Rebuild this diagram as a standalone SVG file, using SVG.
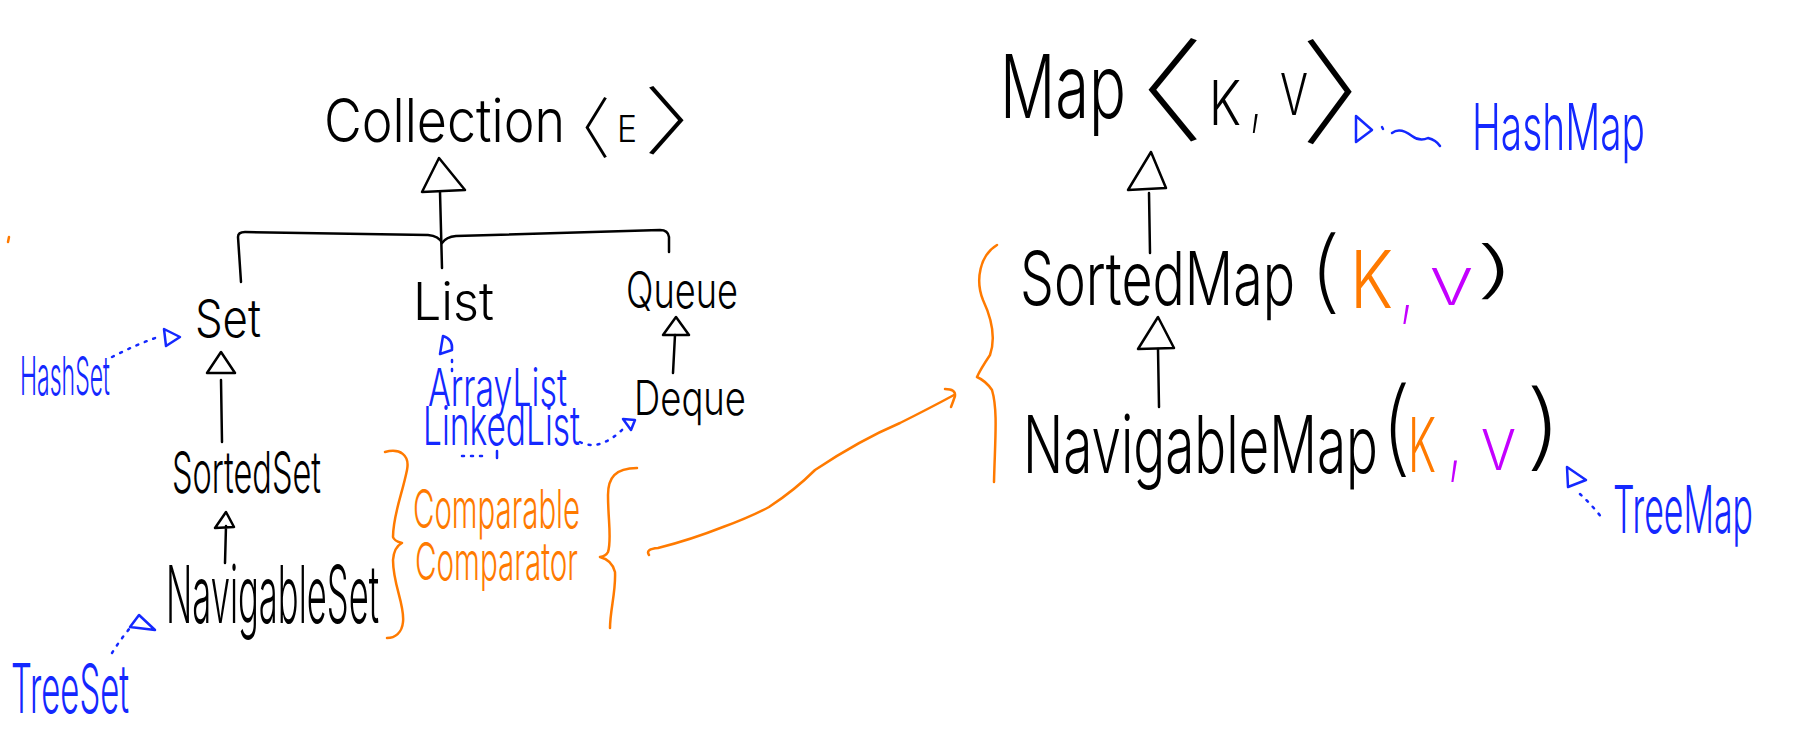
<svg xmlns="http://www.w3.org/2000/svg" width="1798" height="756" viewBox="0 0 1798 756">
<style>
text{font-family:"Inter","Liberation Sans",sans-serif;font-weight:300;}
.k{fill:#000;}
.b{fill:#1428ff;}
.o{fill:#ff7a00;}
.m{fill:#c400ff;}
.thin{font-weight:200;}
.br{font-family:"Noto Sans CJK JP","Noto Sans CJK SC",sans-serif;font-weight:200;}
.sk{fill:none;stroke:#000;stroke-width:2.5;stroke-linecap:round;stroke-linejoin:round;}
.tri{fill:#fff;stroke:#000;stroke-width:2.5;stroke-linejoin:round;}
.bd{fill:none;stroke:#1428ff;stroke-width:2.5;stroke-linecap:round;stroke-dasharray:2 7;}
.bs{fill:none;stroke:#1428ff;stroke-width:2.5;stroke-linecap:round;stroke-linejoin:round;}
.os{fill:none;stroke:#ff7a00;stroke-width:2.5;stroke-linecap:round;stroke-linejoin:round;}
</style>
<rect width="1798" height="756" fill="#fff"/>

<g id="connectors">
  <polygon class="tri" points="439,158 422,192 465,190"/>
  <path class="sk" d="M440,192 L442,268"/>
  <path class="sk" d="M241,282 L238,237 Q238,232 245,232 L428,235 Q439,236 442,243 Q446,237 456,236 L660,230 Q668,230 669,237 L669,252"/>
  <polygon class="tri" points="676,317 663,335 689,335"/>
  <path class="sk" d="M675,335 L673,373"/>
  <polygon class="tri" points="221,352 207,373 235,373"/>
  <path class="sk" d="M221,380 L222,442"/>
  <path class="sk" d="M215,528 L226,512 L234,527 Z M226,526 L225,563"/>
  <polygon class="tri" points="1151,152 1128,190 1166,188"/>
  <path class="sk" d="M1149,193 L1150,253"/>
  <polygon class="tri" points="1158,317 1138,349 1174,348"/>
  <path class="sk" d="M1158,349 L1159,407"/>
  <path class="bd" d="M112,357 Q135,345 158,337"/>
  <path class="bs" d="M164,329 L180,337 L166,346 Z"/>
  <path class="bs" d="M440,354 L443,336 Q453,339 452,350 Z"/>
  <path class="bd" d="M452,360 L452,372"/>
  <path class="bd" d="M580,442 Q600,452 624,428"/>
  <path class="bs" d="M623,419 L635,420 L631,430 Z"/>
  <path class="bd" d="M462,456 L482,456"/>
  <path class="bs" d="M497,451 L497,458"/>
  <path class="bd" d="M112,653 Q120,640 130,628"/>
  <path class="bs" d="M139,615 L130,627 L155,630 Z"/>
  <path class="bs" d="M1356,116 L1372,130 L1356,142 Z"/>
  <path class="bs" d="M1382,127 L1383,129"/>
  <path class="bs" d="M1392,133 Q1400,127 1412,136 Q1420,142 1428,138 Q1436,140 1440,146"/>
  <path class="bs" d="M1567,467 L1586,480 L1568,487 Z"/>
  <path class="bd" d="M1580,494 Q1592,505 1602,518"/>
  <path class="os" d="M9,237 L8,242"/>
  <path class="os" d="M385,452 C400,448 410,455 407,470 C402,495 393,515 393,537 Q394,541 402,543 Q394,547 393,560 C393,585 405,605 403,622 C402,633 395,638 387,638"/>
  <path class="os" d="M637,468 C615,468 608,478 608,495 C608,520 612,540 608,552 Q606,556 600,557 Q612,560 615,572 C616,592 610,610 610,628"/>
  <path class="os" d="M649,555 Q645,549 658,548 Q690,540 723,527 Q750,517 769,507 Q795,490 815,470 Q860,440 900,423 Q930,408 954,395"/>
  <path class="os" d="M945,389 Q956,389 955,396 Q953,402 951,407"/>
  <path class="os" d="M997,245 C980,255 975,280 983,300 C990,315 997,335 990,355 Q980,370 977,377 Q986,381 992,390 C998,410 995,440 994,482"/>
</g>

<g id="collection">
  <text class="k"><tspan x="324" y="142" font-size="60" textLength="241" lengthAdjust="spacingAndGlyphs">Collection</tspan><tspan class="br" x="548" y="153" font-size="66" textLength="62" lengthAdjust="spacingAndGlyphs">〈</tspan><tspan x="617" y="142" font-size="37" textLength="20" lengthAdjust="spacingAndGlyphs">E</tspan><tspan class="br" x="644" y="148" font-size="74" textLength="100" lengthAdjust="spacingAndGlyphs">〉</tspan></text>
</g>
<g id="set"><text class="k" x="195" y="337" font-size="52" textLength="66" lengthAdjust="spacingAndGlyphs">Set</text></g>
<g id="list"><text class="k" x="413" y="320" font-size="52" textLength="81" lengthAdjust="spacingAndGlyphs">List</text></g>
<g id="queue"><text class="k" x="626" y="308" font-size="50" textLength="112" lengthAdjust="spacingAndGlyphs">Queue</text></g>
<g id="deque"><text class="k" x="634" y="415" font-size="48" textLength="112" lengthAdjust="spacingAndGlyphs">Deque</text></g>
<g id="sortedset"><text class="k" x="172" y="493" font-size="58" textLength="149" lengthAdjust="spacingAndGlyphs">SortedSet</text></g>
<g id="navigableset"><text class="k" x="166" y="623" font-size="80" textLength="213" lengthAdjust="spacingAndGlyphs">NavigableSet</text></g>
<g id="hashset"><text class="b" x="20" y="395" font-size="54" textLength="90" lengthAdjust="spacingAndGlyphs">HashSet</text></g>
<g id="treeset"><text class="b" x="11" y="713" font-size="68" textLength="118" lengthAdjust="spacingAndGlyphs">TreeSet</text></g>
<g id="arraylist"><text class="b" x="428" y="406" font-size="52" textLength="139" lengthAdjust="spacingAndGlyphs">ArrayList</text></g>
<g id="linkedlist"><text class="b" x="423" y="445" font-size="54" textLength="157" lengthAdjust="spacingAndGlyphs">LinkedList</text></g>
<g id="comparable"><text class="o" x="413" y="528" font-size="54" textLength="167" lengthAdjust="spacingAndGlyphs">Comparable</text></g>
<g id="comparator"><text class="o" x="415" y="580" font-size="52" textLength="163" lengthAdjust="spacingAndGlyphs">Comparator</text></g>

<g id="map">
  <text class="k"><tspan x="1000" y="118" font-size="88" textLength="126" lengthAdjust="spacingAndGlyphs">Map</tspan><tspan class="br" x="1064" y="133" font-size="112" textLength="140" lengthAdjust="spacingAndGlyphs">〈</tspan><tspan x="1209" y="125" font-size="62" textLength="32" lengthAdjust="spacingAndGlyphs">K</tspan><tspan class="thin" x="1249" y="121" font-size="80" textLength="14" lengthAdjust="spacingAndGlyphs">,</tspan><tspan x="1280" y="115" font-size="58" textLength="28" lengthAdjust="spacingAndGlyphs">V</tspan><tspan class="br" x="1301" y="135" font-size="114" textLength="128" lengthAdjust="spacingAndGlyphs">〉</tspan></text>
</g>
<g id="hashmap"><text class="b" x="1472" y="150" font-size="64" textLength="173" lengthAdjust="spacingAndGlyphs">HashMap</text></g>
<g id="sortedmap">
  <text class="k"><tspan x="1020" y="305" font-size="74" textLength="275" lengthAdjust="spacingAndGlyphs">SortedMap</tspan><tspan class="thin" x="1308" y="302" font-size="90" textLength="34" lengthAdjust="spacingAndGlyphs">(</tspan><tspan class="o" x="1350" y="308" font-size="80" textLength="43" lengthAdjust="spacingAndGlyphs">K</tspan><tspan class="m thin" x="1399" y="312" font-size="80" textLength="16" lengthAdjust="spacingAndGlyphs">,</tspan><tspan class="m" x="1430" y="305" font-size="50" textLength="43" lengthAdjust="spacingAndGlyphs">V</tspan><tspan class="thin" x="1473" y="291" font-size="62" textLength="46" lengthAdjust="spacingAndGlyphs">)</tspan></text>
</g>
<g id="navigablemap">
  <text class="k"><tspan x="1023" y="473" font-size="80" textLength="355" lengthAdjust="spacingAndGlyphs">NavigableMap</tspan><tspan class="thin" x="1380" y="463" font-size="104" textLength="32" lengthAdjust="spacingAndGlyphs">(</tspan><tspan class="o" x="1408" y="472" font-size="76" textLength="28" lengthAdjust="spacingAndGlyphs">K</tspan><tspan class="m thin" x="1447" y="468" font-size="90" textLength="16" lengthAdjust="spacingAndGlyphs">,</tspan><tspan class="m" x="1481" y="470" font-size="56" textLength="35" lengthAdjust="spacingAndGlyphs">V</tspan><tspan class="thin" x="1524" y="458" font-size="94" textLength="40" lengthAdjust="spacingAndGlyphs">)</tspan></text>
</g>
<g id="treemap"><text class="b" x="1613" y="533" font-size="66" textLength="140" lengthAdjust="spacingAndGlyphs">TreeMap</text></g>
</svg>
